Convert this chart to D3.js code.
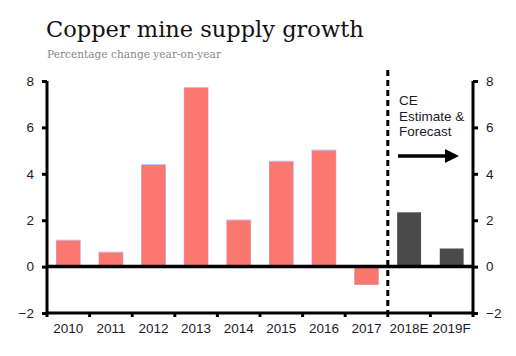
<!DOCTYPE html>
<html><head><meta charset="utf-8">
<script src="https://cdn.jsdelivr.net/npm/d3@7"></script>
<style>body{margin:0;background:#fff}svg{display:block}</style>
</head><body>
<script>
const categories = ["2010","2011","2012","2013","2014","2015","2016","2017","2018E","2019F"];
const values = [1.12, 0.6, 4.38, 7.7, 1.99, 4.52, 5.0, -0.78, 2.34, 0.78];
const forecast = [false,false,false,false,false,false,false,false,true,true];
const yTicks = [-2, 0, 2, 4, 6, 8];
const title = "Copper mine supply growth";
const subtitle = "Percentage change year-on-year";
const annotation = ["CE", "Estimate &", "Forecast"];

const W = 516, H = 356;
const m = {left:47, right:43, top:81, bottom:43};
const svg = d3.select("body").append("svg").attr("width", W).attr("height", H);

const x = d3.scaleBand().domain(categories).range([m.left, W - m.right]).paddingInner(0.44).paddingOuter(0.22);
const y = d3.scaleLinear().domain([-2, 8]).range([H - m.bottom, m.top]);

svg.append("text").attr("x", 46).attr("y", 37).attr("font-family", "DejaVu Serif").attr("font-size", 22.5).attr("fill", "#111").text(title);
svg.append("text").attr("x", 47).attr("y", 58).attr("font-family", "DejaVu Serif").attr("font-size", 10.6).attr("fill", "#888").text(subtitle);

// bars
const g = svg.append("g");
categories.forEach((c, i) => {
  const v = values[i];
  const y0 = y(Math.max(0, v)), h = Math.abs(y(v) - y(0));
  if (!forecast[i]) {
    g.append("rect").attr("x", x(c) - 0.5).attr("y", y0 - 1).attr("width", x.bandwidth() + 1).attr("height", h + 1).attr("fill", "#c7c2ff");
  }
  g.append("rect").attr("x", x(c)).attr("y", y0).attr("width", x.bandwidth()).attr("height", h)
    .attr("fill", forecast[i] ? "#4a4a4a" : "#fa786d");
});

const font = "'Liberation Sans', 'DejaVu Sans', sans-serif";
// left axis
const la = svg.append("g").attr("transform", `translate(${m.left},0)`)
  .call(d3.axisLeft(y).tickValues(yTicks).tickSize(5).tickPadding(8).tickFormat(d3.format("d")));
// right axis
const ra = svg.append("g").attr("transform", `translate(${W - m.right},0)`)
  .call(d3.axisRight(y).tickValues(yTicks).tickSize(5).tickPadding(8).tickFormat(d3.format("d")));
// bottom axis
const ba = svg.append("g").attr("transform", `translate(0,${H - m.bottom})`)
  .call(d3.axisBottom(x).tickSize(0).tickPadding(10));
// bottom boundary ticks
const bounds = categories.map(c => x(c) - x.step() * x.paddingInner() / 2).concat([W - m.right]);
bounds.forEach(b => ba.append("line").attr("x1", b).attr("x2", b).attr("y1", 0).attr("y2", 4).attr("stroke", "#000").attr("stroke-width", 3));

[la, ra, ba].forEach(a => {
  a.select(".domain").attr("stroke", "#000").attr("stroke-width", 3);
  a.selectAll(".tick line").attr("stroke", "#000").attr("stroke-width", 3);
  a.selectAll("text").attr("font-family", font).attr("font-size", 13.5).attr("fill", "#1b1b2b");
});
la.select(".domain").attr("d", `M0,${y(-2)}V${y(8)}`);
ra.select(".domain").attr("d", `M0,${y(-2)}V${y(8)}`);
ba.select(".domain").attr("d", `M${m.left},0H${W - m.right}`);

// zero line
svg.append("line").attr("x1", m.left).attr("x2", W - m.right).attr("y1", y(0)).attr("y2", y(0)).attr("stroke", "#000").attr("stroke-width", 3.5);

// dashed divider
const dx = x("2018E") - x.step() * x.paddingInner() / 2;
svg.append("line").attr("x1", dx).attr("x2", dx).attr("y1", 70).attr("y2", y(-2)).attr("stroke", "#000").attr("stroke-width", 3).attr("stroke-dasharray", "6,4");

// annotation
const ann = svg.append("text").attr("font-family", font).attr("font-size", 13.5).attr("fill", "#1b1b2b");
annotation.forEach((t, i) => ann.append("tspan").attr("x", 399).attr("y", 105 + i * 15.7).text(t));
svg.append("line").attr("x1", 398).attr("x2", 447).attr("y1", 156).attr("y2", 156).attr("stroke", "#000").attr("stroke-width", 3.5);
svg.append("path").attr("d", "M445,149L459,156L445,163Z").attr("fill", "#000");
</script>
</body></html>
